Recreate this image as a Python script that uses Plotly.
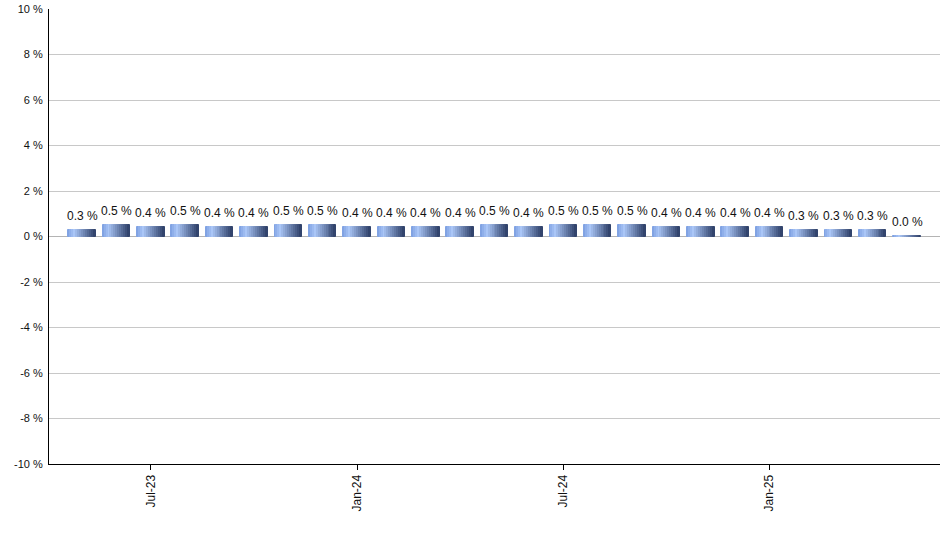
import plotly.graph_objects as go

months = ["May-23", "Jun-23", "Jul-23", "Aug-23", "Sep-23", "Oct-23", "Nov-23", "Dec-23",
          "Jan-24", "Feb-24", "Mar-24", "Apr-24", "May-24", "Jun-24", "Jul-24", "Aug-24",
          "Sep-24", "Oct-24", "Nov-24", "Dec-24", "Jan-25", "Feb-25", "Mar-25", "Apr-25", "May-25"]
values = [0.3, 0.5, 0.4, 0.5, 0.4, 0.4, 0.5, 0.5, 0.4, 0.4, 0.4, 0.4, 0.5,
          0.4, 0.5, 0.5, 0.5, 0.4, 0.4, 0.4, 0.4, 0.3, 0.3, 0.3, 0.03]
tick_months = ["Jul-23", "Jan-24", "Jul-24", "Jan-25"]
y_ticks = list(range(-10, 11, 2))


def mix(c1, c2, t):
    return "rgb({},{},{})".format(*[round(a + (b - a) * t) for a, b in zip(c1, c2)])


# fake the horizontal gradient of each bar with thin slices
edge = (122, 157, 224)
light = (170, 198, 247)
dark = (44, 62, 102)
n = 14
bar_w = 0.8
fig = go.Figure()
for i in range(n):
    t = (i + 0.5) / n
    if t < 0.25:
        col = mix(edge, light, t / 0.25)
    else:
        col = mix(light, dark, (t - 0.25) / 0.75)
    fig.add_trace(go.Bar(
        x=months, y=values, width=bar_w / n, offset=-bar_w / 2 + i * bar_w / n,
        marker=dict(color=col, line=dict(width=1, color=col)), showlegend=False,
    ))

for m, v in zip(months, values):
    fig.add_annotation(
        x=m, y=v, text="{:.1f} %".format(v), showarrow=False,
        yanchor="bottom", yshift=5,
        font=dict(family="Arial", size=12, color="#111111"),
    )

fig.update_layout(
    width=940, height=550,
    margin=dict(l=49, r=0, t=9, b=86),
    plot_bgcolor="white", paper_bgcolor="white",
    barmode="overlay", bargap=0,
    font=dict(family="Arial", size=11, color="#111111"),
)
fig.update_xaxes(
    type="category", categoryorder="array", categoryarray=months,
    range=[-0.96, 24.96], automargin=False,
    tickmode="array", tickvals=tick_months, ticktext=tick_months,
    tickangle=-90, ticks="outside", ticklen=5, tickcolor="black",
    tickfont=dict(size=12),
    showline=True, linecolor="black", linewidth=1, showgrid=False,
)
fig.update_yaxes(
    range=[-10, 10], automargin=False, ticklabeloverflow="allow",
    tickmode="array", tickvals=y_ticks, ticktext=["{} %".format(v) for v in y_ticks],
    showgrid=True, gridcolor="#c8c8c8", gridwidth=1,
    zeroline=True, zerolinecolor="#b4b4b4", zerolinewidth=1,
    showline=True, linecolor="black", linewidth=1, ticks="", ticklabelstandoff=3,
)

# drop the default body margin so the figure sits at the page corner
fig.write_html("out.html", config={"displayModeBar": False},
               post_script="document.body.style.margin = '0';")
